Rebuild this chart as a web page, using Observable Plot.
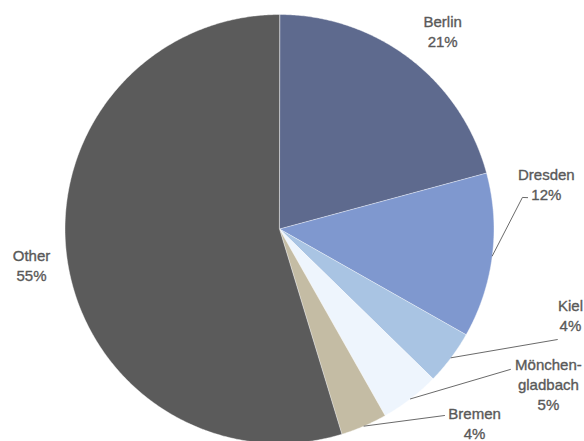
<!DOCTYPE html>
<html>
<head>
<meta charset="utf-8">
<script src="https://cdn.jsdelivr.net/npm/d3@7"></script>
<script src="https://cdn.jsdelivr.net/npm/@observablehq/plot@0.6"></script>
<style>
  html, body { margin: 0; padding: 0; background: #fff; }
  #chart svg { display: block; }
</style>
</head>
<body>
<div id="chart"></div>
<script>
// ---- data ----
const names = ["Berlin", "Dresden", "Kiel", "Mönchen-\ngladbach", "Bremen", "Other"];
const shares = [20.8, 12.4, 4.1, 4.5, 3.5, 54.7];
const colors = ["#5e6a8e", "#7f98cf", "#a9c4e3", "#eef5fd", "#c4bca4", "#5b5b5b"];

// ---- label layout (angle in degrees clockwise from top, radius in pie radii) ----
const labelAngle = [39.5, 80.3, 106.4, 119.9, 134.8, 261.85];
const labelRadius = [1.196, 1.262, 1.414, 1.446, 1.282, 1.168];
const leaderBend = [null, [82.6, 1.142], [111.7, 1.394], [121.3, 1.26], [138.5, 1.161], null];
const leaderTail = [null, [82.8, 1.166], null, null, null, null];

const rad = d => d * Math.PI / 180;
const polar = (deg, r) => ({x: Math.sin(rad(deg)) * r, y: Math.cos(rad(deg)) * r});

const total = d3.sum(shares);
let acc = 0;
const slices = shares.map((v, i) => {
  const a0 = acc / total * 360;
  acc += v;
  const a1 = acc / total * 360;
  return {i, a0, a1, mid: (a0 + a1) / 2};
});

const marks = [];
for (const s of slices) {
  const pts = [{x: 0, y: 0}];
  const n = Math.max(2, Math.ceil((s.a1 - s.a0) / 0.5));
  for (let k = 0; k <= n; k++) pts.push(polar(s.a0 + (s.a1 - s.a0) * k / n, 1));
  marks.push(Plot.line(pts, {
    x: "x", y: "y", curve: "linear-closed",
    fill: colors[s.i], stroke: "#ffffff", strokeWidth: 0.6, strokeOpacity: 0.7
  }));
}

// leader lines
for (const s of slices) {
  if (!leaderBend[s.i]) continue;
  const pts = [polar(s.mid, 1), polar(...leaderBend[s.i])];
  if (leaderTail[s.i]) pts.push(polar(...leaderTail[s.i]));
  marks.push(Plot.line(pts, {x: "x", y: "y", stroke: "#595959", strokeWidth: 0.9}));
}

// labels
const labels = slices.map(s => ({
  ...polar(labelAngle[s.i], labelRadius[s.i]),
  text: names[s.i] + "\n" + Math.round(shares[s.i] / total * 100) + "%"
}));
marks.push(Plot.text(labels, {
  x: "x", y: "y", text: "text",
  textAnchor: "middle", lineAnchor: "middle", lineHeight: 1.33,
  fontSize: 15, fill: "#595959", stroke: "#595959", strokeWidth: 0.35,
  fontFamily: "'Liberation Sans', Arial, Helvetica, sans-serif"
}));

const R = 214.5, cx = 279, cy = 228.5;
const chart = Plot.plot({
  width: 584,
  height: 441,
  margin: 0,
  x: {domain: [-1, 1], range: [cx - R, cx + R], axis: null},
  y: {domain: [-1, 1], range: [cy + R, cy - R], axis: null},
  style: {background: "#ffffff", overflow: "visible"},
  marks
});
document.getElementById("chart").appendChild(chart);
</script>
</body>
</html>
